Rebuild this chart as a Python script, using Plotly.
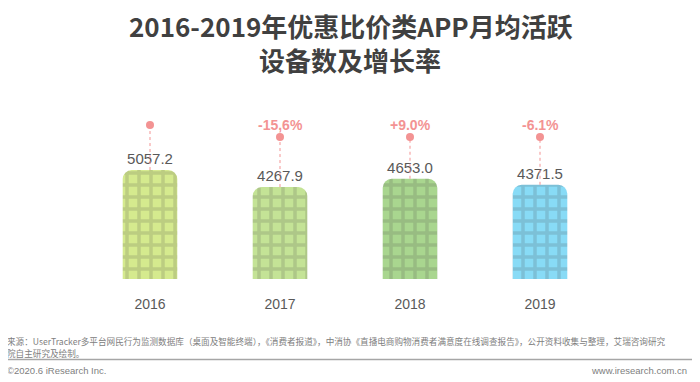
import plotly.graph_objects as go

# ---- data ----
years = ["2016", "2017", "2018", "2019"]
devices = [5057.2, 4267.9, 4653.0, 4371.5]          # 月均活跃设备数（万台）
growth_labels = ["", "-15,6%", "+9.0%", "-6.1%"]
bar_colors = ["#d5ea8e", "#c4e396", "#a9d68f", "#88dbf6"]

title_line1 = "2016-2019年优惠比价类APP月均活跃"
title_line2 = "设备数及增长率"
source_line1 = ("来源：UserTracker多平台网民行为监测数据库（桌面及智能终端），《消费者报道》，"
                "中消协《直播电商购物消费者满意度在线调查报告》，公开资料收集与整理，艾瑞咨询研究")
source_line2 = "院自主研究及绘制。"
copyright_text = "©2020.6 iResearch Inc."
site_text = "www.iresearch.com.cn"

# ---- geometry (page body has an 8px margin, so the figure is drawn 8px in) ----
OFF = 8
W, H = 700 - OFF, 382 - OFF
ML, MT, PW, PH = 85 - OFF, 95 - OFF, 520, 184
MR, MB = W - ML - PW, H - MT - PH
def pxx(p): return (p - OFF - ML) / PW          # screen pixel -> paper x
def pxy(p): return (H - MB - (p - OFF)) / PH    # screen pixel -> paper y

YMAX = 8540
label_level = 7150   # height of growth labels
dot_level = 6590     # height of growth dots (below labels)

pink = "#f39393"
fig = go.Figure()

fig.add_trace(go.Bar(
    x=years, y=devices,
    marker=dict(color=bar_colors, cornerradius=9, line=dict(width=0),
                pattern=dict(shape="+", fillmode="overlay", fgcolor="white",
                             fgopacity=0.18, size=12, solidity=0.5)),
    text=[f"{v:.1f}" for v in devices], textposition="outside",
    textfont=dict(family="Liberation Sans, Arial", size=15, color="#595959"),
    cliponaxis=False, width=0.42, hoverinfo="skip",
))

# dotted connector lines and dots
for i, (yr, v, g) in enumerate(zip(years, devices, growth_labels)):
    top = dot_level if g else label_level
    fig.add_trace(go.Scatter(
        x=[yr, yr], y=[v, top], mode="lines",
        line=dict(color=pink, width=1, dash="dot"), hoverinfo="skip", showlegend=False))
    fig.add_trace(go.Scatter(
        x=[yr], y=[top], mode="markers",
        marker=dict(color=pink, size=8), hoverinfo="skip", showlegend=False, cliponaxis=False))
    if g:
        fig.add_annotation(x=i, y=label_level, text=f"<b>{g}</b>", showarrow=False,
                           font=dict(family="Liberation Sans, Arial", size=14, color=pink),
                           xanchor="center", yanchor="middle")

# title
fig.add_annotation(xref="paper", yref="paper", x=pxx(351), y=pxy(25), text=f"<b>{title_line1}</b>",
                   showarrow=False, xanchor="center", yanchor="middle",
                   font=dict(family="Noto Sans CJK SC", size=26, color="#404040"))
fig.add_annotation(xref="paper", yref="paper", x=pxx(350), y=pxy(60), text=f"<b>{title_line2}</b>",
                   showarrow=False, xanchor="center", yanchor="middle",
                   font=dict(family="Noto Sans CJK SC", size=26, color="#404040"))

# footer
foot_font = dict(family="Noto Sans CJK SC", size=8.6, color="#808080")
fig.add_annotation(xref="paper", yref="paper", x=pxx(5), y=pxy(340.5), text=source_line1,
                   showarrow=False, xanchor="left", yanchor="middle", font=foot_font)
fig.add_annotation(xref="paper", yref="paper", x=pxx(5), y=pxy(352.5), text=source_line2,
                   showarrow=False, xanchor="left", yanchor="middle", font=foot_font)
fig.add_shape(type="line", xref="paper", yref="paper", x0=pxx(4), x1=pxx(692),
              y0=pxy(359.5), y1=pxy(359.5), line=dict(color="#a6a6a6", width=1.5))
fig.add_annotation(xref="paper", yref="paper", x=pxx(5), y=pxy(370), text=copyright_text,
                   showarrow=False, xanchor="left", yanchor="middle",
                   font=dict(family="Liberation Sans, Arial", size=9.5, color="#808080"))
fig.add_annotation(xref="paper", yref="paper", x=pxx(689), y=pxy(370), text=site_text,
                   showarrow=False, xanchor="right", yanchor="middle",
                   font=dict(family="Liberation Sans, Arial", size=9.5, color="#808080"))

fig.update_layout(
    width=W, height=H, margin=dict(l=ML, r=MR, t=MT, b=MB, autoexpand=False),
    plot_bgcolor="white", paper_bgcolor="white", showlegend=False,
    bargap=0.58,
)
fig.update_xaxes(type="category", range=[-0.5, len(years) - 0.5], showgrid=False,
                 showline=False, zeroline=False,
                 ticks="outside", ticklen=12, tickcolor="rgba(0,0,0,0)",
                 tickfont=dict(family="Liberation Sans, Arial", size=14, color="#595959"))
fig.update_yaxes(range=[0, YMAX], visible=False, showgrid=False, zeroline=False)

fig.write_html("out.html")
